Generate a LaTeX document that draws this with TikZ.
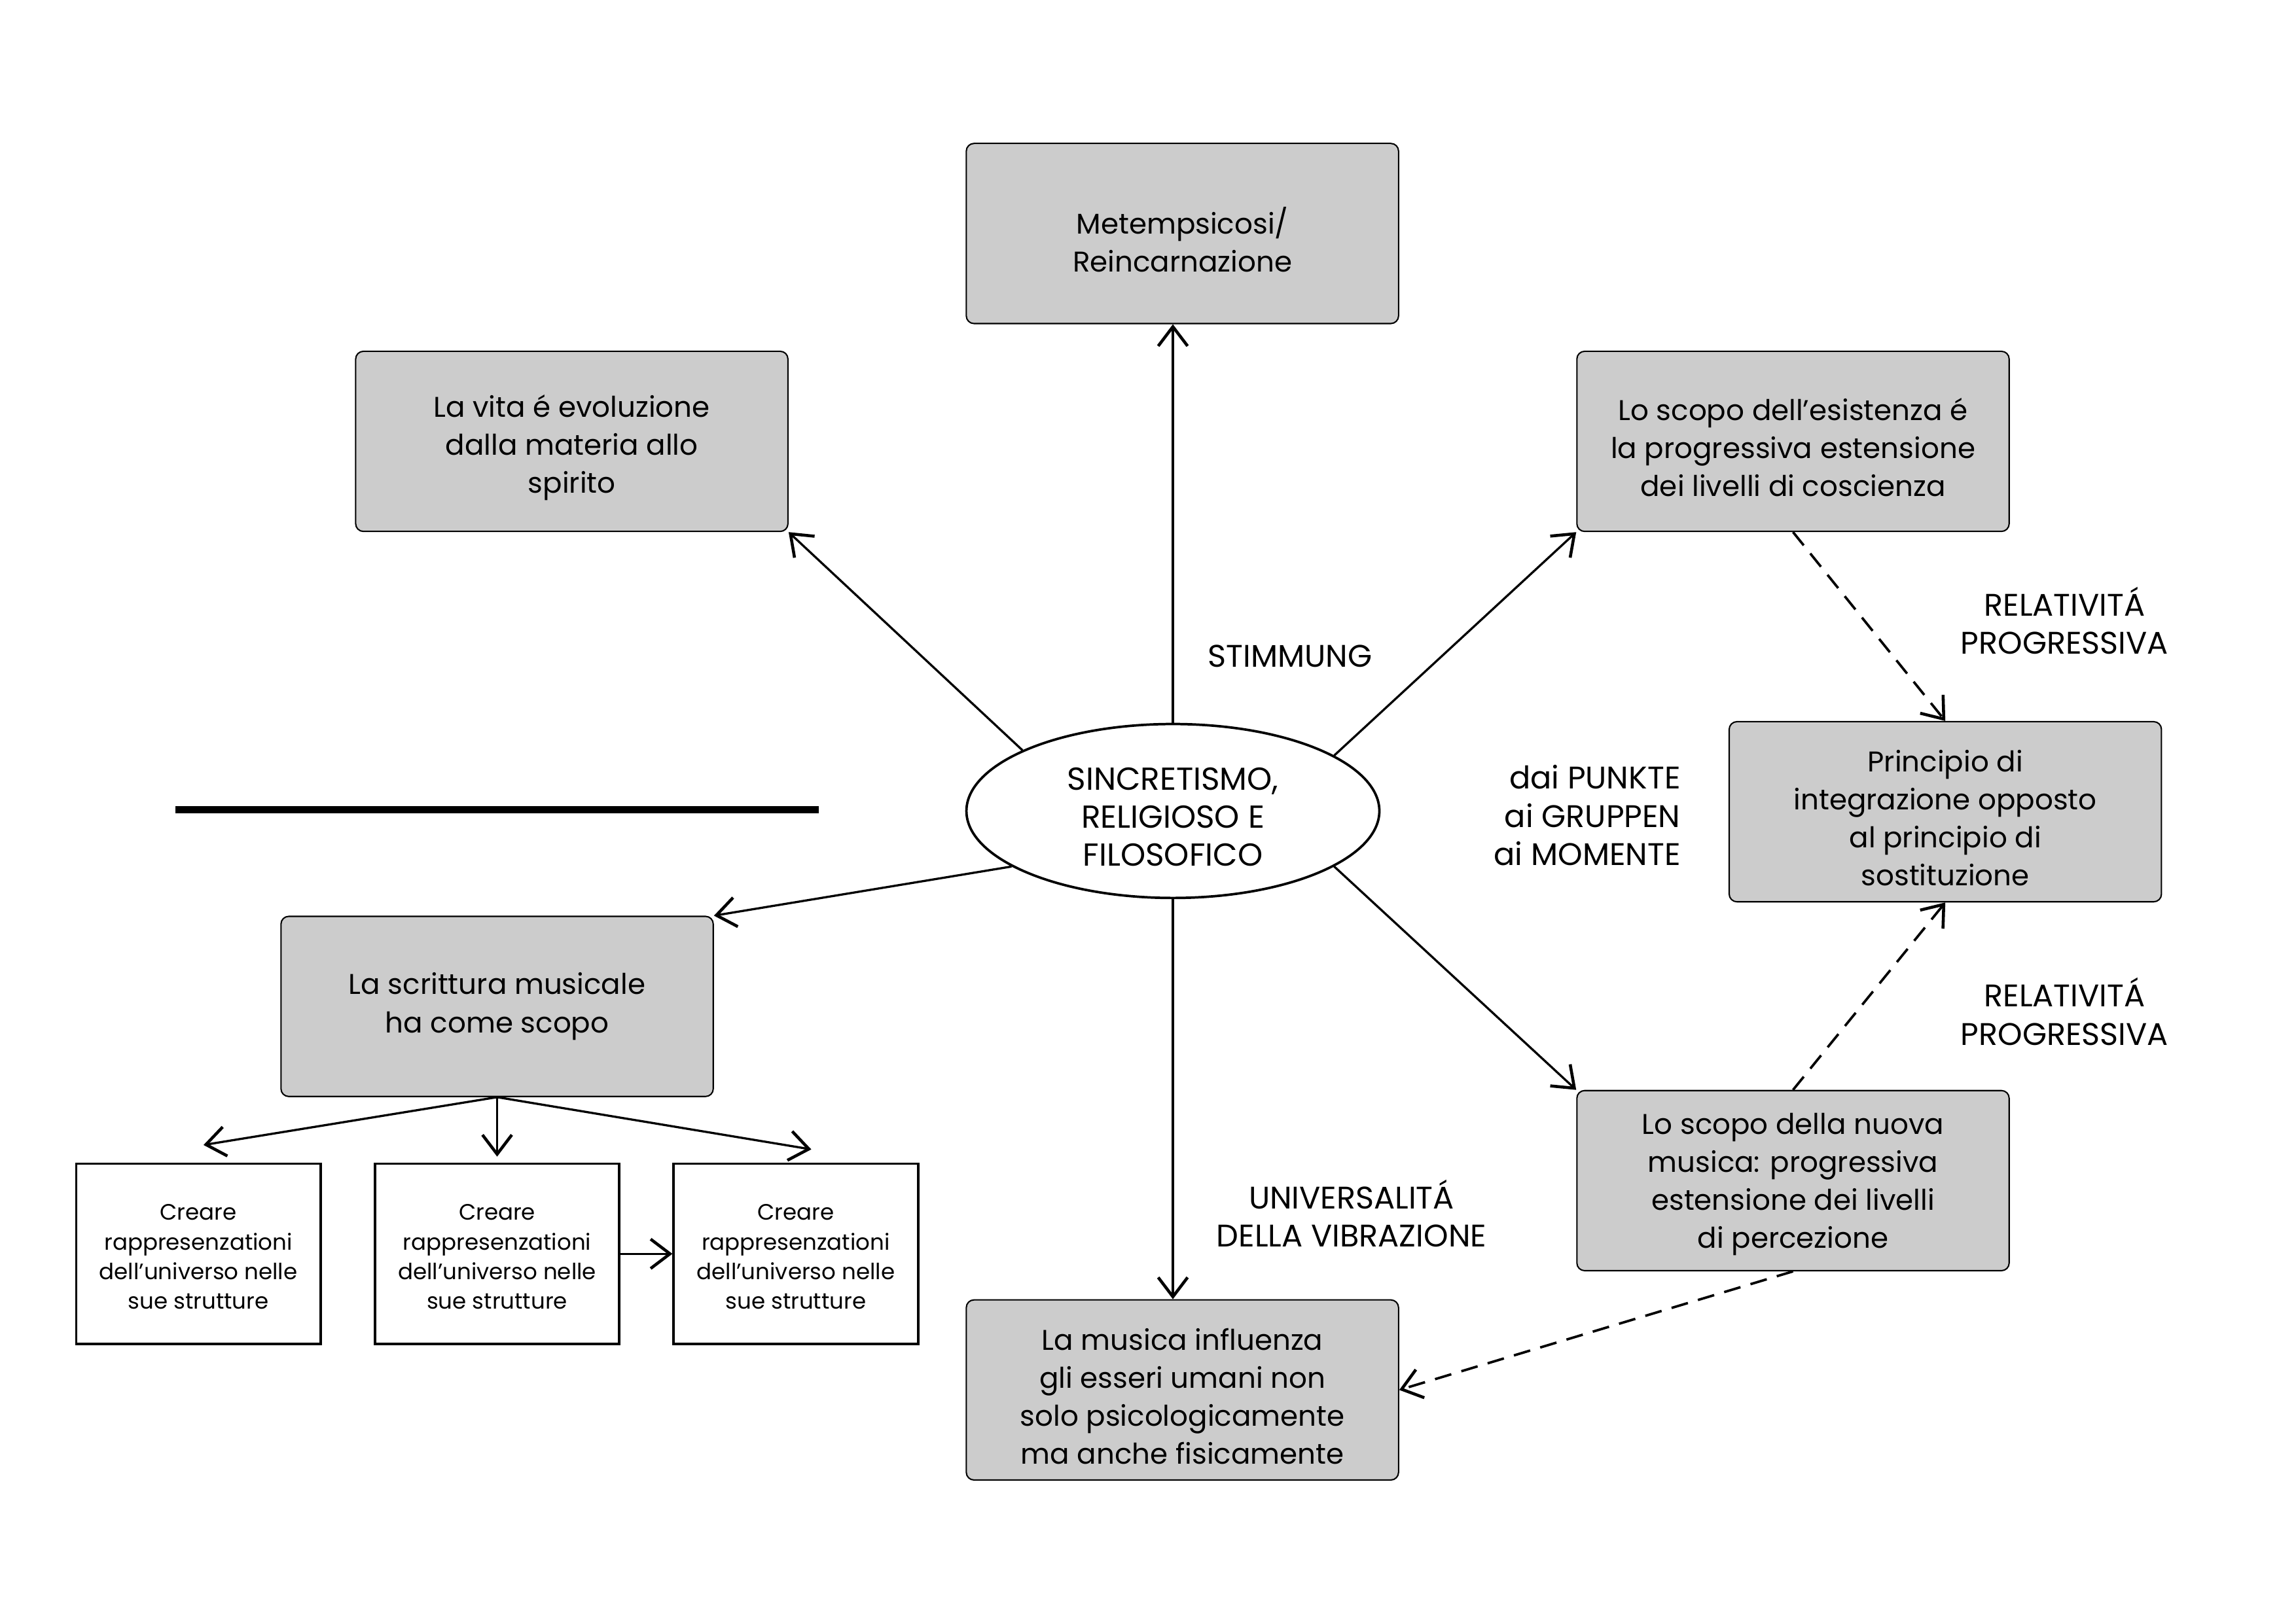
\documentclass[tikz,border=0pt]{standalone}
\usepackage{fontspec}
\setmainfont{Poppins}
\usetikzlibrary{arrows.meta,shapes.geometric}
\definecolor{boxgray}{HTML}{CCCCCC}
\newcommand\mkgbox[4][-0.8mm]{%
  \node[gbox] (#2) at (#3) {};
  \node[gtxt] (#2t) at ([yshift=#1]#2.center) {#4};}
\newcommand\mkwbox[2]{%
  \node[wbox] (#1) at (#2) {};
  \node[wtxt] (#1t) at ([yshift=-0.4mm]#1.center) {Creare\\rappresenzationi\\dell’universo nelle\\sue strutture};}
\begin{document}
\begin{tikzpicture}[x=0.018941cm,y=-0.018936cm,
  gbox/.style={draw=black, line width=0.5pt, fill=boxgray, rounded corners=1mm,
    minimum width=55.9mm, minimum height=23.3mm, inner sep=0pt},
  gtxt/.style={align=center, font=\fontsize{10.5}{14}\selectfont, inner sep=0pt},
  wbox/.style={draw=black, line width=0.9pt, fill=white, minimum width=31.6mm,
    minimum height=23.3mm, inner sep=0pt},
  wtxt/.style={align=center, font=\fontsize{8.2}{10.9}\selectfont, inner sep=0pt},
  lbl/.style={font=\fontsize{11.5}{14}\selectfont, align=center, inner sep=0pt},
  conn/.style={line width=0.8pt, -{Straight Barb[length=2.5mm,width=3.8mm,line width=1.1pt]}},
  dconn/.style={conn, line width=0.9pt, dash pattern=on 2.2mm off 1.35mm},
]
\fill[white] (0,0) rectangle (1568,1109);

% central ellipse
\node[ellipse, draw=black, line width=0.9pt, minimum width=53.4mm, minimum height=22.5mm,
  inner sep=0pt] (ell) at (801,554) {};
\node[align=center, font=\fontsize{11.7}{14}\selectfont, inner sep=0pt] (elltxt) at (801,558)
  {SINCRETISMO,\\RELIGIOSO E\\FILOSOFICO};

% grey boxes
\mkgbox{met}{807.5,159.5}{Metempsicosi/\\Reincarnazione}
\mkgbox{vita}{390.5,301.5}{La vita é evoluzione\\dalla materia allo\\spirito}
\mkgbox{esist}{1224.5,301.5}{Lo scopo dell’esistenza é\\la progressiva estensione\\dei livelli di coscienza}
\mkgbox{princ}{1328.5,554.5}{Principio di\\integrazione opposto\\al principio di\\sostituzione}
\mkgbox[-0.5mm]{nuova}{1224.5,806.5}{Lo scopo della nuova\\musica: progressiva\\estensione dei livelli\\di percezione}
\mkgbox{musica}{807.5,949.5}{La musica influenza\\gli esseri umani non\\solo psicologicamente\\ma anche fisicamente}
\mkgbox[0mm]{scritt}{339.5,687.5}{La scrittura musicale\\ha come scopo}

% white boxes
\mkwbox{w1}{135.5,856.5}
\mkwbox{w2}{339.5,856.5}
\mkwbox{w3}{543.5,856.5}

% labels
\node[lbl] (stim) at (881,448) {STIMMUNG};
\node[lbl] (rel1) at (1410,424) {RELATIVITÁ\\PROGRESSIVA};
\node[lbl] (rel2) at (1410,691) {RELATIVITÁ\\PROGRESSIVA};
\node[lbl, align=right, anchor=east] (punkte) at (1148,557) {dai PUNKTE\\ai GRUPPEN\\ai MOMENTE};
\node[lbl] (univ) at (923,829) {UNIVERSALITÁ\\DELLA VIBRAZIONE};

% thick bar
\draw[line width=2.6pt] (120,553) coordinate (barL) -- (559,553) coordinate (barR);

% connectors from the ellipse
\draw[conn] (ell.north) -- (ell.north |- met.south);
\draw[conn] (ell.south) -- (ell.south |- musica.north);
\draw[conn] (ell.158) -- (vita.south east);
\draw[conn] (ell.19) -- (esist.south west);
\draw[conn] (ell.199) -- (scritt.north east);
\draw[conn] (ell.341) -- (nuova.north west);

% dashed connectors
\draw[dconn] (esist.south) -- (princ.north);
\draw[dconn] (nuova.north) -- (princ.south);
\draw[dconn] (nuova.south) -- (musica.east);

% tree
\draw[conn] (scritt.south) -- ([xshift=0.66mm,yshift=2.27mm]w1.north);
\draw[conn] (scritt.south) -- ([yshift=0.76mm]w2.north);
\draw[conn] (scritt.south) -- ([xshift=2mm,yshift=1.7mm]w3.north);
\draw[conn] (w2.east) -- (w3.west);
\end{tikzpicture}
\end{document}
